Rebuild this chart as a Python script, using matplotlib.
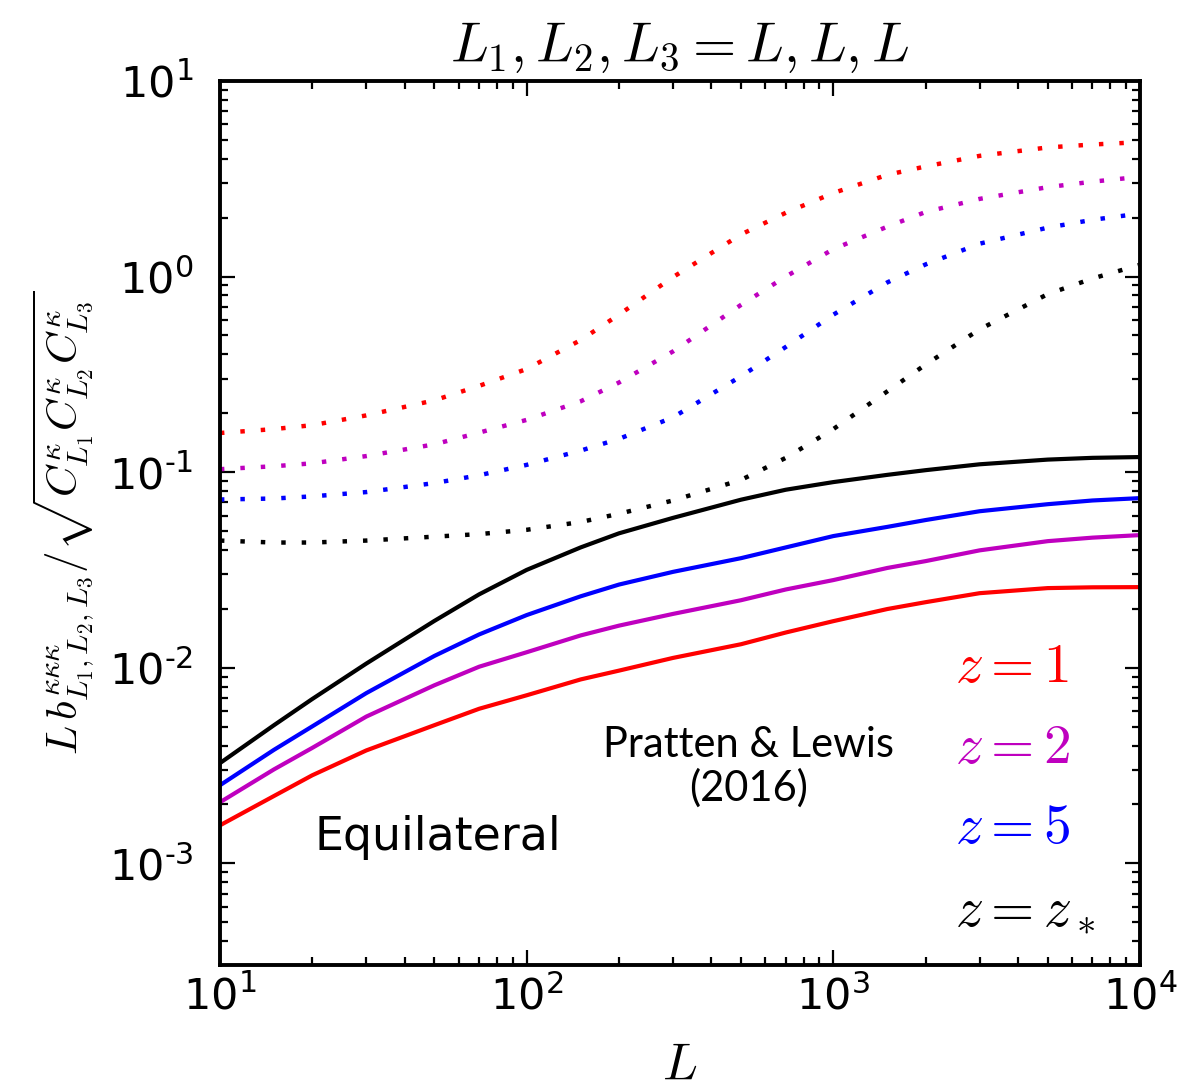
import numpy as np
import matplotlib
matplotlib.use("Agg")
import matplotlib.pyplot as plt
from matplotlib.ticker import FuncFormatter

plt.rcParams['mathtext.fontset'] = 'dejavusans'

# multipole grid
L = [10, 15, 20, 30, 50, 70, 100, 150, 200, 300, 500, 700,
     1000, 1500, 2000, 3000, 5000, 7000, 10000]

# log10 of the curves
# solid lines
log_z1 = [-2.806, -2.656, -2.55, -2.423, -2.294, -2.21, -2.141, -2.06, -2.015, -1.95,
          -1.88, -1.82, -1.762, -1.70, -1.665, -1.619, -1.593, -1.589, -1.588]
log_z2 = [-2.688, -2.52, -2.41, -2.25, -2.09, -1.995, -1.921, -1.835, -1.785, -1.725,
          -1.655, -1.60, -1.552, -1.49, -1.455, -1.40, -1.353, -1.335, -1.322]
log_z5 = [-2.601, -2.42, -2.30, -2.13, -1.94, -1.83, -1.731, -1.635, -1.575, -1.51,
          -1.44, -1.385, -1.327, -1.28, -1.245, -1.20, -1.164, -1.145, -1.133]
log_zs = [-2.488, -2.294, -2.16, -1.979, -1.761, -1.625, -1.50, -1.385, -1.313, -1.234,
          -1.141, -1.09, -1.051, -1.014, -0.99, -0.96, -0.936, -0.927, -0.923]
# dotted lines
log_z1_dot = [-0.80, -0.78, -0.76, -0.71, -0.633, -0.559, -0.473, -0.325, -0.195, -0.003,
              0.215, 0.326, 0.427, 0.52, 0.563, 0.617, 0.66, 0.675, 0.687]
log_z2_dot = [-0.985, -0.97, -0.955, -0.918, -0.858, -0.798, -0.733, -0.638, -0.542, -0.383,
              -0.145, 0.0, 0.14, 0.255, 0.33, 0.397, 0.457, 0.485, 0.51]
log_z5_dot = [-1.14, -1.135, -1.124, -1.102, -1.056, -1.016, -0.963, -0.89, -0.83, -0.72,
              -0.51, -0.36, -0.195, -0.03, 0.062, 0.168, 0.25, 0.29, 0.322]
log_zs_dot = [-1.35, -1.36, -1.36, -1.35, -1.33, -1.317, -1.295, -1.255, -1.213, -1.145,
              -1.04, -0.927, -0.78, -0.587, -0.45, -0.27, -0.09, -0.01, 0.06]

labels = [r'$z=1$', r'$z=2$', r'$z=5$', r'$z=z_*$']
colors = ['r', 'm', 'b', 'k']
solid = [log_z1, log_z2, log_z5, log_zs]
dotted = [log_z1_dot, log_z2_dot, log_z5_dot, log_zs_dot]


def sci(v, pos):
    e = int(round(np.log10(v)))
    s = r'\text{-}%d' % -e if e < 0 else '%d' % e
    return r'$\mathdefault{10^{%s}}$' % s


fig = plt.figure(figsize=(11.8, 10.91), dpi=100)
ax = fig.add_axes([0.1864, 0.1155, 0.7797, 0.8103])

for c, s, d in zip(colors, solid, dotted):
    ax.loglog(L, 10**np.array(s), color=c, lw=3.0)
    ax.loglog(L, 10**np.array(d), color=c, lw=3.2, linestyle=(0, (1, 3.6)))

ax.set_xlim(10, 1e4)
ax.set_ylim(10**-3.52, 10)
ax.xaxis.set_major_formatter(FuncFormatter(sci))
ax.yaxis.set_major_formatter(FuncFormatter(sci))

for side in ax.spines.values():
    side.set_linewidth(2.8)
ax.tick_params(which='both', direction='in', top=True, right=True, width=1.6)
ax.tick_params(which='major', length=11)
ax.tick_params(which='minor', length=5.5)
ax.tick_params(axis='x', which='major', labelsize=31, pad=8)
ax.tick_params(axis='y', which='major', labelsize=31, pad=19)

ax.set_title(r'$L_1, L_2, L_3 = L, L, L$', fontsize=40, pad=14, math_fontfamily='cm')
ax.set_xlabel(r'$L$', fontsize=37, labelpad=16, math_fontfamily='cm')
ax.set_ylabel(r'$L\,b^{\kappa\kappa\kappa}_{L_1,L_2,L_3}/\sqrt{C^{\kappa}_{L_1}C^{\kappa}_{L_2}C^{\kappa}_{L_3}}$',
              fontsize=31, labelpad=9, math_fontfamily='cm')

ax.text(0.103, 0.13, 'Equilateral', transform=ax.transAxes, fontsize=33)
ax.text(0.575, 0.224, 'Pratten & Lewis\n(2016)', transform=ax.transAxes, fontsize=30,
        family='Lato', ha='center', va='center', linespacing=1.15)

ys = [0.337, 0.246, 0.155, 0.062]
for lab, c, y in zip(labels, colors, ys):
    ax.text(0.799, y, lab, transform=ax.transAxes, fontsize=40, color=c,
            va='center', math_fontfamily='cm')

fig.savefig('out.png', dpi=100)
